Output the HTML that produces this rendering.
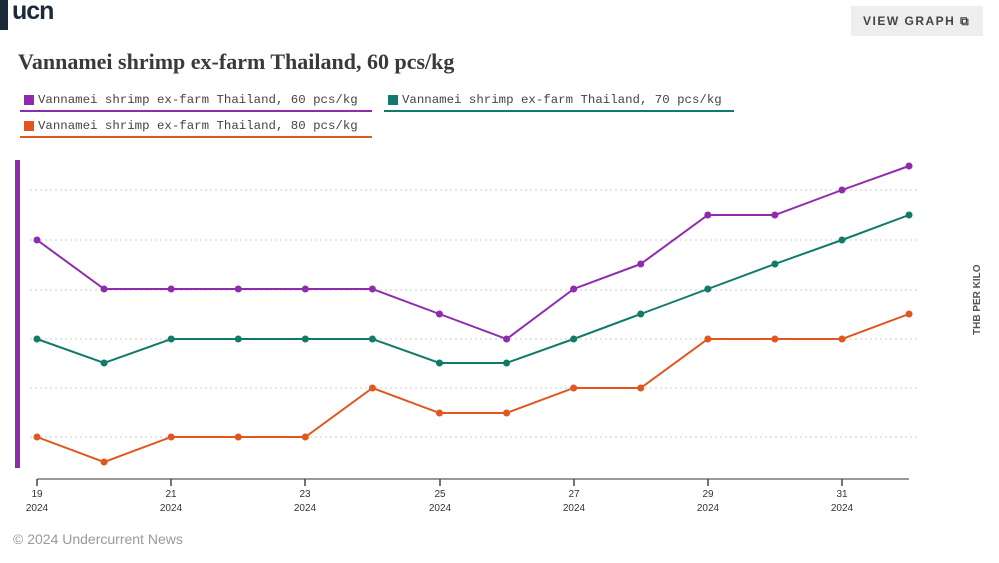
<!DOCTYPE html>
<html><head><style>
body{margin:0;width:999px;height:563px;background:#fff;overflow:hidden;position:relative;font-family:"Liberation Sans",sans-serif}
.logo{position:absolute;left:0;top:0;width:8px;height:30px;background:#1b2a38}
.logot{position:absolute;left:12px;top:-3px;font-size:25px;font-weight:bold;color:#1b2a38;letter-spacing:-1px}
.btn{position:absolute;left:851px;top:6px;width:132px;height:30px;background:#eeeeee;font-size:12px;font-weight:bold;color:#444;letter-spacing:1.5px;line-height:30px;text-indent:12px}
h1{position:absolute;left:18px;top:49px;margin:0;font-family:"Liberation Serif",serif;font-size:22px;font-weight:bold;color:#3a3a3a}
.lg{position:absolute;font-family:"Liberation Mono",monospace;font-size:12.4px;color:#444;padding-left:18px;height:17px;line-height:14px}
.lg i{position:absolute;left:4px;top:2px;width:10px;height:10px}
.cp{position:absolute;left:13px;top:531px;font-size:14px;color:#999}
</style></head><body>
<div class="logo"></div><div class="logot">ucn</div>
<div class="btn">VIEW GRAPH ⧉</div>
<h1>Vannamei shrimp ex-farm Thailand, 60 pcs/kg</h1>
<div class="lg" style="left:20px;top:93px;width:334px;border-bottom:2px solid #8e2cb0"><i style="background:#8e2cb0"></i>Vannamei shrimp ex-farm Thailand, 60 pcs/kg</div>
<div class="lg" style="left:384px;top:93px;width:332px;border-bottom:2px solid #127a6a"><i style="background:#127a6a"></i>Vannamei shrimp ex-farm Thailand, 70 pcs/kg</div>
<div class="lg" style="left:20px;top:119px;width:334px;border-bottom:2px solid #e0561f"><i style="background:#e0561f"></i>Vannamei shrimp ex-farm Thailand, 80 pcs/kg</div>
<svg width="999" height="563" style="position:absolute;left:0;top:0">
<rect x="15" y="160" width="5" height="308" fill="#8e2cb0"/>
<g stroke="#ccc" stroke-dasharray="2,3">
<line x1="30" x2="920" y1="190" y2="190"/><line x1="30" x2="920" y1="240" y2="240"/><line x1="30" x2="920" y1="290" y2="290"/><line x1="30" x2="920" y1="339" y2="339"/><line x1="30" x2="920" y1="388" y2="388"/><line x1="30" x2="920" y1="437" y2="437"/>
</g>
<line x1="37" x2="909" y1="479" y2="479" stroke="#777" stroke-width="1.5"/>
<g stroke="#444" stroke-width="1.5"><line x1="37" x2="37" y1="479" y2="486"/><line x1="171" x2="171" y1="479" y2="486"/><line x1="305" x2="305" y1="479" y2="486"/><line x1="440" x2="440" y1="479" y2="486"/><line x1="574" x2="574" y1="479" y2="486"/><line x1="708" x2="708" y1="479" y2="486"/><line x1="842" x2="842" y1="479" y2="486"/></g>
<g font-size="10" fill="#333" text-anchor="middle" font-family="Liberation Sans">
<text x="37" y="497">19</text><text x="37" y="511">2024</text>
<text x="171" y="497">21</text><text x="171" y="511">2024</text>
<text x="305" y="497">23</text><text x="305" y="511">2024</text>
<text x="440" y="497">25</text><text x="440" y="511">2024</text>
<text x="574" y="497">27</text><text x="574" y="511">2024</text>
<text x="708" y="497">29</text><text x="708" y="511">2024</text>
<text x="842" y="497">31</text><text x="842" y="511">2024</text>
</g>
<text transform="translate(980,335) rotate(-90)" font-size="10" font-weight="bold" fill="#555" font-family="Liberation Sans">THB PER KILO</text>
<g id="s"></g>
</svg>
<script>
var d=[["#8e2cb0",[240,289,289,289,289,289,314,339,289,264,215,215,190,166]],["#127a6a",[339,363,339,339,339,339,363,363,339,314,289,264,240,215]],["#e0561f",[437,462,437,437,437,388,413,413,388,388,339,339,339,314]]];
var g=document.getElementById('s'),h='';
d.forEach(function(s){var p=s[1].map(function(y,i){return (37+i*67.08).toFixed(1)+','+y}).join(' ');
h+='<polyline points="'+p+'" fill="none" stroke="'+s[0]+'" stroke-width="2"/>';
s[1].forEach(function(y,i){h+='<circle cx="'+(37+i*67.08)+'" cy="'+y+'" r="3.5" fill="'+s[0]+'"/>'})});
g.innerHTML=h;
</script>
<div class="cp">© 2024 Undercurrent News</div>
</body></html>
